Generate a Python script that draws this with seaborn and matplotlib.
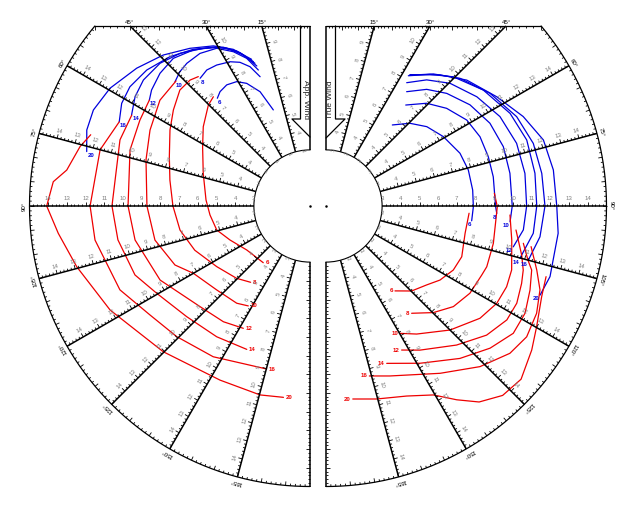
import numpy as np
import pandas as pd
import matplotlib
matplotlib.use("Agg")
import matplotlib.pyplot as plt
import seaborn as sns
from matplotlib.collections import LineCollection

# ---------------- data (angle in degrees, boat speed in knots) ----------------
TWS = [6, 8, 10, 12, 14, 16, 20]

# Apparent wind, upwind sails (blue)
app_up_6_ang = [20.9, 23.6, 27.3, 30.5, 34.5, 38.2, 40.7]
app_up_6_spd = [5.5, 6.67, 7.38, 7.72, 7.86, 7.78, 7.6]
app_up_8_ang = [21.1, 23.3, 26, 29, 33.5, 37.2, 40.7]
app_up_8_spd = [7.41, 8.11, 8.55, 8.82, 9.04, 9.13, 9.01]
app_up_10_ang = [20.8, 23.2, 26.4, 30.6, 35.8, 40.8, 44.1, 47.4]
app_up_10_spd = [7.78, 8.59, 9.21, 9.8, 10.06, 10.08, 10.0, 9.81]
app_up_12_ang = [20.8, 23.8, 27.8, 31.4, 36.8, 42.8, 48.5, 53.8, 56.6]
app_up_12_spd = [8.01, 8.83, 9.54, 9.94, 10.42, 10.76, 10.71, 10.5, 10.29]
app_up_14_ang = [21.1, 24.5, 28.6, 34.1, 40.4, 46.4, 52.9, 58, 63]
app_up_14_spd = [8.18, 9.01, 9.67, 10.18, 10.72, 11.07, 11.17, 11.03, 10.71]
app_up_16_ang = [21.4, 25.3, 30.4, 36.7, 43.2, 50.2, 56.5, 61.4, 66.2]
app_up_16_spd = [8.29, 9.17, 9.87, 10.45, 10.95, 11.36, 11.55, 11.47, 11.15]
app_up_20_ang = [21.7, 26.1, 31.1, 37.3, 44.2, 51.5, 59.5, 66.1, 71.2, 76.3]
app_up_20_spd = [8.44, 9.33, 10.0, 10.6, 11.26, 11.84, 12.41, 12.67, 12.61, 12.29]

# Apparent wind, downwind sails (red)
app_dn_6_ang = [41.5, 45.2, 53.4, 61.1, 73, 86.7, 95.1, 104.4, 113, 124.8, 140.5]
app_dn_6_spd = [7.8, 7.66, 7.11, 6.56, 5.97, 5.57, 5.37, 5.15, 4.65, 4.12, 3.93]
app_dn_8_ang = [40.8, 43.6, 48.3, 54.9, 61.5, 70.7, 79.5, 90, 100.5, 111, 123, 134.6, 142.1]
app_dn_8_spd = [9.14, 9.3, 9.32, 8.93, 8.52, 7.97, 7.62, 7.33, 7.07, 6.6, 5.95, 5.51, 5.17]
app_dn_10_ang = [47, 54.8, 64.6, 74.3, 90, 102.4, 113.6, 120, 132, 143, 148.3]
app_dn_10_spd = [9.8, 9.82, 9.47, 9.11, 8.72, 8.49, 7.88, 7.2, 6.71, 6.51, 6.28]
app_dn_12_ang = [56.6, 63.2, 72.7, 90, 101, 116.3, 132.5, 143.2, 151.4]
app_dn_12_spd = [10.29, 10.19, 10.08, 9.73, 9.53, 8.94, 7.97, 7.73, 7.45]
app_dn_14_ang = [63, 70.8, 90, 100, 111.5, 119.7, 131.9, 144.5, 156.2]
app_dn_14_spd = [10.7, 10.76, 10.59, 10.43, 10.06, 9.43, 8.86, 8.59, 8.38]
app_dn_16_ang = [66.2, 75, 90, 99, 113.8, 124.3, 134.4, 147.3, 165.1]
app_dn_16_spd = [11.15, 11.62, 11.76, 11.64, 11.11, 10.35, 9.98, 9.58, 9.02]
app_dn_20_ang = [72, 75.5, 81.6, 84.6, 90, 96.2, 104.6, 117.5, 134.8, 152.7, 165.2, 172.1]
app_dn_20_spd = [12.33, 12.7, 13.15, 13.79, 14.08, 13.54, 12.89, 12.05, 11.06, 10.48, 10.45, 10.33]

# True wind, upwind sails (blue)
true_up_6_ang = [39.3, 45.4, 51.8, 59.4, 68.5, 75.8, 83.8, 90.3, 95.8]
true_up_6_spd = [5.6, 6.3, 6.86, 7.29, 7.7, 7.85, 7.89, 7.88, 7.83]
true_up_8_ang = [38.3, 44.4, 51, 58.6, 65.8, 73.1, 80.1, 90.2, 92.5]
true_up_8_spd = [6.88, 7.69, 8.3, 8.82, 9.03, 9.07, 9.08, 9.07, 9.14]
true_up_10_ang = [35.2, 40.8, 47, 54.9, 63.2, 71.5, 79.9, 90, 94.9]
true_up_10_spd = [7.48, 8.24, 8.83, 9.41, 9.82, 10.0, 9.99, 9.96, 9.88]
true_up_12_ang = [33.2, 38.6, 45.3, 54.1, 62.8, 71.8, 80.7, 90, 96.9, 102.3]
true_up_12_spd = [7.88, 8.63, 9.33, 9.96, 10.46, 10.73, 10.78, 10.73, 10.63, 10.25]
true_up_14_ang = [32.3, 38.3, 44.6, 53.6, 63.3, 71.8, 81.1, 90, 97.5, 105.1]
true_up_14_spd = [8.24, 8.97, 9.7, 10.45, 11.02, 11.3, 11.31, 11.27, 11.18, 10.74]
true_up_16_ang = [32.5, 39.1, 46.4, 55.5, 64.9, 73.2, 81.4, 90, 98.2, 105]
true_up_16_spd = [8.29, 9.1, 9.9, 10.64, 11.26, 11.58, 11.67, 11.71, 11.56, 11.2]
true_up_20_ang = [32.6, 41, 48.2, 57.4, 65.6, 73.1, 81, 90, 96.7, 107.5, 112.6]
true_up_20_spd = [8.34, 9.29, 10.1, 10.84, 11.58, 12.15, 12.31, 12.34, 12.5, 12.56, 12.4]

# True wind, downwind sails (red)
true_dn_6_ang = [92.9, 101.1, 110.5, 116.7, 123, 128.1, 134.8, 140.9]
true_dn_6_spd = [7.66, 7.58, 7.75, 7.62, 7.27, 6.84, 6.45, 5.85]
true_dn_8_ang = [85.7, 90.2, 102.6, 110.7, 113.9, 121.2, 128.3, 134.8, 141.4]
true_dn_8_spd = [9.03, 9.16, 9.17, 9.19, 9.11, 9.0, 8.68, 8.09, 7.34]
true_dn_10_ang = [92.8, 100.4, 109, 114.1, 119.7, 126.1, 135, 144.7, 149.8]
true_dn_10_spd = [9.85, 10.1, 10.5, 10.58, 10.51, 10.19, 9.38, 8.39, 7.88]
true_dn_12_ang = [97.2, 104.1, 108, 111.6, 117, 122.2, 128.8, 136.8, 146.9, 152.3]
true_dn_12_spd = [10.24, 10.79, 11.09, 11.25, 11.45, 11.43, 11.02, 10.2, 9.2, 8.7]
true_dn_14_ang = [100.7, 105, 107.3, 112.4, 118.3, 124.2, 130.9, 138.7, 149.1, 158.9]
true_dn_14_spd = [10.74, 11.18, 11.52, 11.8, 12.09, 12.11, 11.61, 10.85, 9.8, 9.02]
true_dn_16_ang = [101.2, 106.9, 111.4, 117, 123.1, 128.7, 136.2, 145.7, 159.4, 165.7]
true_dn_16_spd = [11.18, 11.78, 12.29, 12.64, 12.81, 12.6, 11.9, 10.83, 9.71, 9.38]
true_dn_20_ang = [107.8, 112.8, 119.8, 125, 131.6, 137, 142, 146, 150.4, 157, 165.3, 172.1]
true_dn_20_spd = [12.36, 12.51, 12.98, 13.43, 13.95, 13.85, 13.3, 12.5, 11.62, 11.04, 10.67, 10.42]

ANGLE_TICKS = list(range(15, 181, 15))
ANGLE_LABELS = [f"{a}\u00b0" for a in range(15, 166, 15)]

# ---------------- assemble ----------------
series = {
    ("app", "up"): [(app_up_6_ang, app_up_6_spd), (app_up_8_ang, app_up_8_spd), (app_up_10_ang, app_up_10_spd),
                    (app_up_12_ang, app_up_12_spd), (app_up_14_ang, app_up_14_spd), (app_up_16_ang, app_up_16_spd),
                    (app_up_20_ang, app_up_20_spd)],
    ("app", "dn"): [(app_dn_6_ang, app_dn_6_spd), (app_dn_8_ang, app_dn_8_spd), (app_dn_10_ang, app_dn_10_spd),
                    (app_dn_12_ang, app_dn_12_spd), (app_dn_14_ang, app_dn_14_spd), (app_dn_16_ang, app_dn_16_spd),
                    (app_dn_20_ang, app_dn_20_spd)],
    ("true", "up"): [(true_up_6_ang, true_up_6_spd), (true_up_8_ang, true_up_8_spd), (true_up_10_ang, true_up_10_spd),
                     (true_up_12_ang, true_up_12_spd), (true_up_14_ang, true_up_14_spd), (true_up_16_ang, true_up_16_spd),
                     (true_up_20_ang, true_up_20_spd)],
    ("true", "dn"): [(true_dn_6_ang, true_dn_6_spd), (true_dn_8_ang, true_dn_8_spd), (true_dn_10_ang, true_dn_10_spd),
                     (true_dn_12_ang, true_dn_12_spd), (true_dn_14_ang, true_dn_14_spd), (true_dn_16_ang, true_dn_16_spd),
                     (true_dn_20_ang, true_dn_20_spd)],
}
rows = []
for (side, part), curves in series.items():
    for tws, (ang, spd) in zip(TWS, curves):
        for i, (a, s) in enumerate(zip(ang, spd)):
            rows.append(dict(side=side, part=part, tws=tws, order=i, theta=np.radians(a), speed=s))
df = pd.DataFrame(rows)

# ---------------- layout ----------------
W, H, DPI = 635, 518, 100
PX = 18.7            # pixels per knot
R_IN, R_OUT = 3, 15
CY = 206
CX_L, CX_R = 310, 326
Y_TOP = (CY - 26) / PX          # top clipping border (knots above centre)
TH_C = np.degrees(np.arccos(Y_TOP / R_OUT))
SQ = 2 * R_OUT * PX

sns.set_theme(style="white")
plt.rcParams["font.family"] = ["Liberation Sans", "DejaVu Sans"]

fig = plt.figure(figsize=(W / DPI, H / DPI), dpi=DPI)
fig.patch.set_facecolor("white")

ax_l = fig.add_axes([(CX_L - 0.75 * SQ) / W, (H - CY - SQ / 2) / H, SQ / W, SQ / H], projection="polar")
ax_r = fig.add_axes([(CX_R - 0.25 * SQ) / W, (H - CY - SQ / 2) / H, SQ / W, SQ / H], projection="polar")

RED = "#ee0000"
BLUE = "#0000dd"
GREY = "#808080"


def k(px):
    return px / PX


def setup(ax, sign):
    ax.set_theta_zero_location("N")
    ax.set_theta_direction(sign)
    ax.set_thetamin(0)
    ax.set_thetamax(180)
    ax.set_rlim(R_IN, R_OUT)
    ax.set_rorigin(0)
    ax.grid(False)
    ax.set_xticks([])
    ax.set_yticks([])
    ax.set_xlabel("")
    ax.set_ylabel("")
    ax.patch.set_alpha(0)
    for s in ("polar", "start", "end"):
        ax.spines[s].set_linewidth(0)
        ax.spines[s].set_edgecolor("none")
    ax.spines["inner"].set_linewidth(0.8)
    ax.spines["inner"].set_edgecolor("black")


def polar_pt(x, y):
    return np.arctan2(x, y), np.hypot(x, y)


def decorate(ax, sign):
    spokes, ticks = [], []
    for a in ANGLE_TICKS:
        t = np.radians(a)
        re = R_OUT if a >= TH_C else Y_TOP / np.cos(t)
        spokes.append([(t, R_IN), (t, re)])
        for v in np.arange(R_IN + 0.2, re - 0.05, 0.2):
            vi = round(v, 1)
            d = k(4.0) if abs(vi - round(vi)) < 1e-6 else k(2.2)
            ticks.append([(t, vi), (t - np.arctan(d / vi), np.hypot(vi, d))])
        if a < 180:
            rot = ((90 + sign * a + 90) % 180) - 90
            dl = k(7.5)
            for n in range(3, 15):
                if n < re - 0.45:
                    ax.text(t - np.arctan(dl / n), np.hypot(n, dl), str(n), fontsize=4.4, color=GREY,
                            ha="center", va="center", rotation=rot, rotation_mode="anchor")
    spokes.append([(0, R_IN), (0, Y_TOP)])
    ax.add_collection(LineCollection(spokes, colors="black", linewidths=1.1, clip_on=False))
    ax.add_collection(LineCollection(ticks, colors="black", linewidths=0.6, clip_on=False))

    # outer arc
    ta = np.radians(np.linspace(TH_C, 180, 300))
    ax.plot(ta, np.full_like(ta, R_OUT), color="black", lw=0.9, clip_on=False)
    # top border
    tb = np.radians(np.linspace(0, TH_C, 120))
    ax.plot(tb, Y_TOP / np.cos(tb), color="black", lw=0.9, clip_on=False)
    # degree ticks
    dticks = []
    for deg in range(1, 180):
        d = k(4.0) if deg % 5 == 0 else k(2.2)
        t = np.radians(deg)
        if deg >= TH_C:
            dticks.append([(t, R_OUT), (t, R_OUT - d)])
        else:
            x = Y_TOP * np.tan(t)
            dticks.append([polar_pt(x, Y_TOP), polar_pt(x, Y_TOP - d)])
    ax.add_collection(LineCollection(dticks, colors="black", linewidths=0.6, clip_on=False))

    # angle labels
    for a, lab in zip(range(15, 166, 15), ANGLE_LABELS):
        t = np.radians(a)
        if a < TH_C:
            x = Y_TOP * np.tan(t)
            tt, rr = polar_pt(x, Y_TOP + k(4))
            ax.text(tt, rr, lab, fontsize=4.4, ha="center", va="center", color="black", clip_on=False)
        else:
            ax.text(t, R_OUT + k(5), lab, fontsize=4.4, ha="center", va="center", color="black",
                    rotation=sign * a, rotation_mode="anchor", clip_on=False)


setup(ax_l, 1)
setup(ax_r, -1)

# ---------------- curves ----------------
for (side, part), color in [(("app", "up"), BLUE), (("app", "dn"), RED), (("true", "up"), BLUE), (("true", "dn"), RED)]:
    ax = ax_l if side == "app" else ax_r
    sub = df[(df.side == side) & (df.part == part)]
    sns.lineplot(data=sub, x="theta", y="speed", units="tws", estimator=None, sort=False,
                 color=color, lw=0.9, ax=ax, legend=False)
    for tws, g in sub.groupby("tws"):
        last = g.sort_values("order").iloc[-1]
        if side == "app" and part == "dn":
            off, ha, va = (1.5, 0), "left", "center"
        elif side == "true" and part == "dn":
            off, ha, va = (-1.5, 0), "right", "center"
        elif side == "app":
            off, ha, va = (0.5, -1), "left", "top"
        else:
            off, ha, va = (-0.5, -1), "right", "top"
        ax.annotate(str(tws), (last.theta, last.speed), xytext=off, textcoords="offset points",
                    fontsize=4.4, color=color, ha=ha, va=va, fontweight="bold", annotation_clip=False)

for ax, sign in ((ax_l, 1), (ax_r, -1)):
    setup(ax, sign)
    decorate(ax, sign)
    ax.set_rlim(R_IN, R_OUT)
    ax.set_rorigin(0)

# ---------------- overlay: wind-type tabs ----------------
ov = fig.add_axes([0, 0, 1, 1])
ov.set_xlim(0, W)
ov.set_ylim(H, 0)
ov.axis("off")
ov.patch.set_alpha(0)
ov.plot([300.5, 300.5, 292, 310], [26, 119, 119, 137], color="black", lw=0.9)
ov.plot([335.5, 335.5, 345, 326], [26, 119, 119, 138], color="black", lw=0.9)
ov.text(305.2, 100, "App. Wind", rotation=270, fontsize=6, ha="center", va="center")
ov.text(330.8, 100, "True Wind", rotation=90, fontsize=6, ha="center", va="center")
ov.plot([CX_L, CX_R], [CY, CY], ls="none", marker="o", ms=0.8, color="black")

fig.savefig("out.png", dpi=DPI, facecolor="white")
